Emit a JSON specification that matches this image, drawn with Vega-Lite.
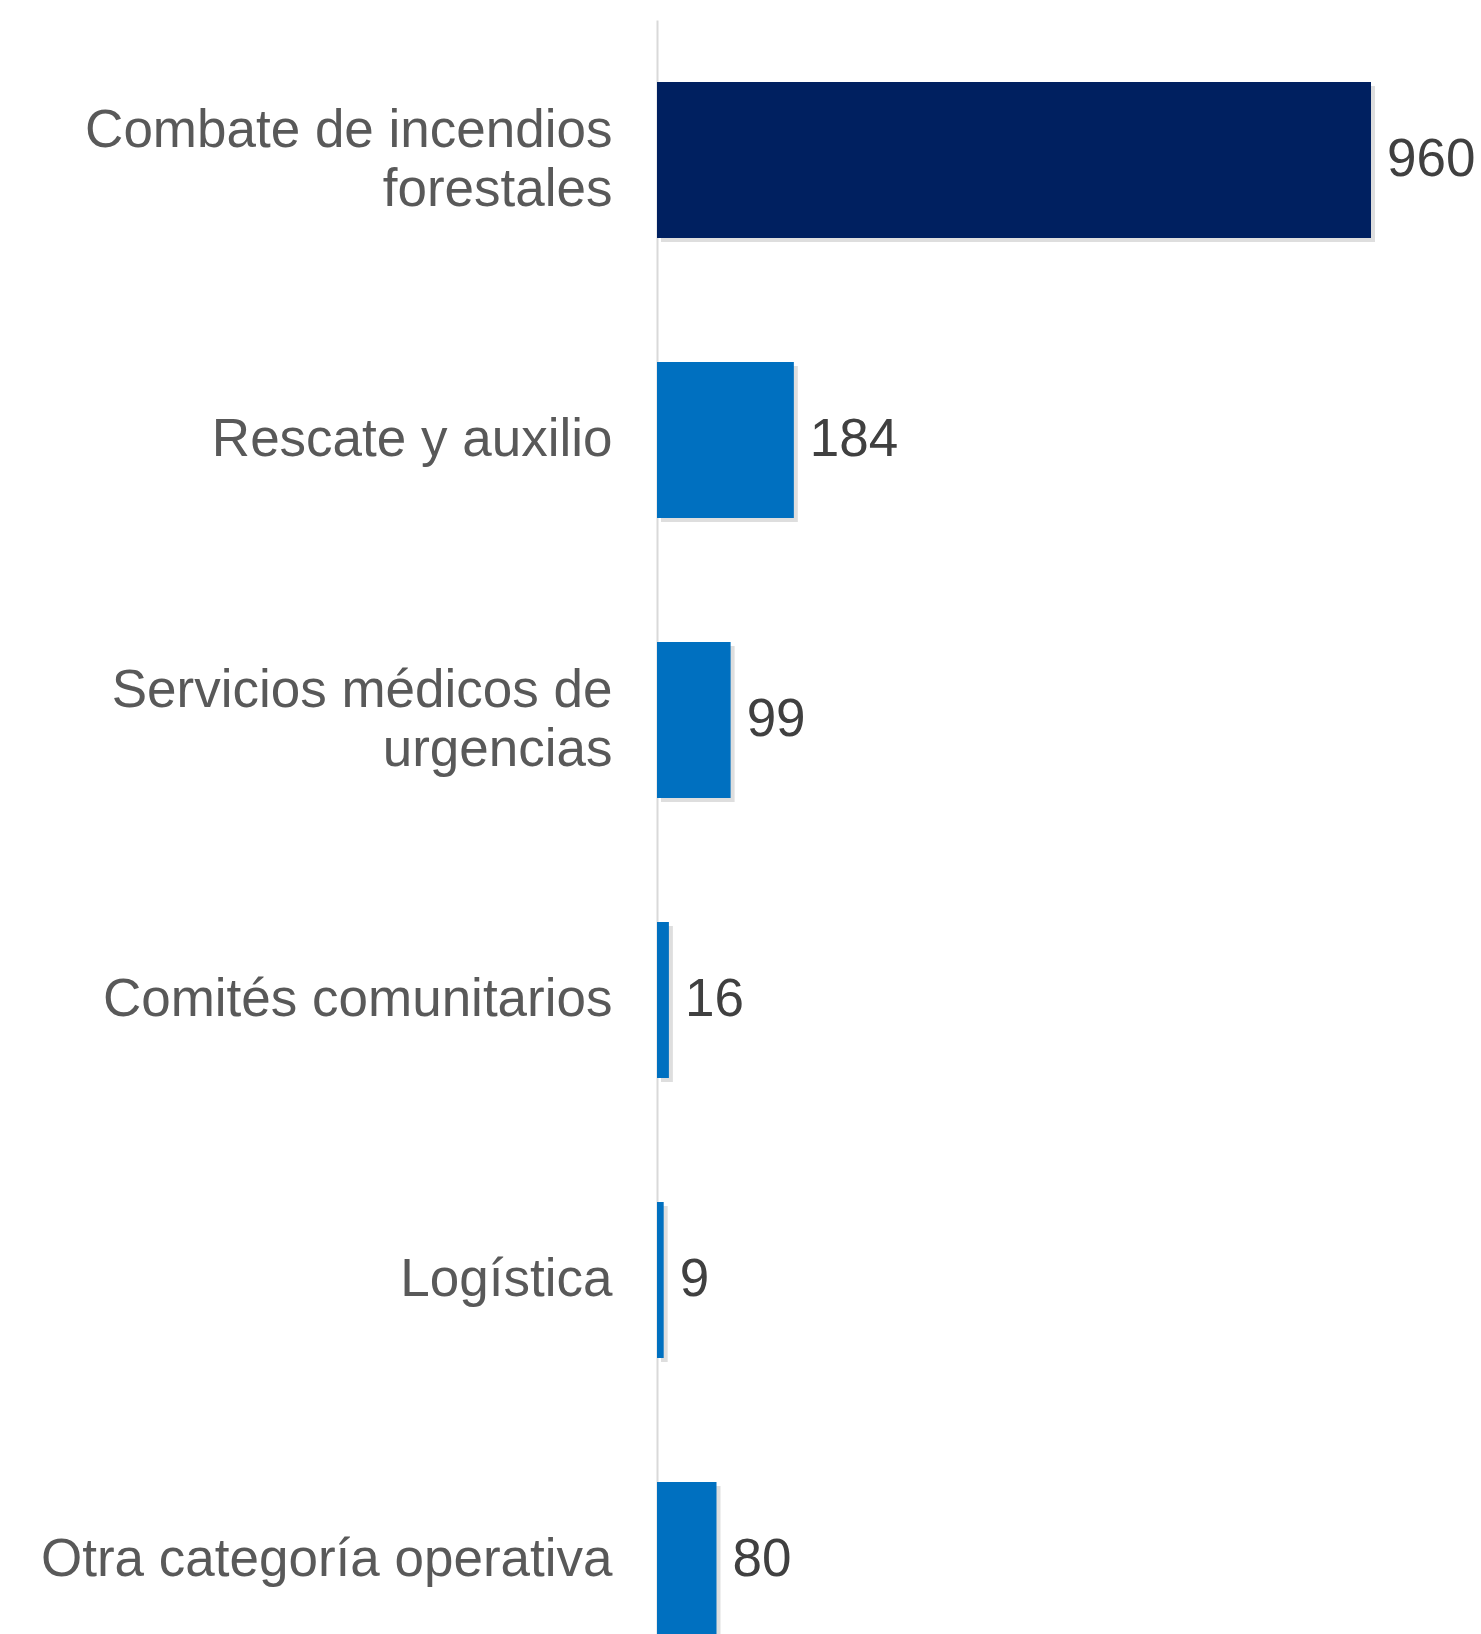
{
  "$schema": "https://vega.github.io/schema/vega-lite/v6.json",
  "autosize": "none",
  "width": 714,
  "height": 1680,
  "padding": {"left": 657, "top": 20, "right": 110, "bottom": 0},
  "background": "white",
  "config": {"view": {"stroke": null}},
  "data": {
    "values": [
      {"categoria": "Combate de incendios forestales", "valor": 960, "grupo": "principal"},
      {"categoria": "Rescate y auxilio", "valor": 184, "grupo": "otros"},
      {"categoria": "Servicios médicos de urgencias", "valor": 99, "grupo": "otros"},
      {"categoria": "Comités comunitarios", "valor": 16, "grupo": "otros"},
      {"categoria": "Logística", "valor": 9, "grupo": "otros"},
      {"categoria": "Otra categoría operativa", "valor": 80, "grupo": "otros"}
    ]
  },
  "encoding": {
    "y": {
      "field": "categoria",
      "type": "nominal",
      "sort": null,
      "scale": {"paddingInner": 0.443, "paddingOuter": 0.2215},
      "axis": {
        "title": null,
        "ticks": false,
        "domainColor": "#d9d9d9",
        "domainWidth": 2,
        "labelFont": "Liberation Sans",
        "labelFontSize": 53,
        "labelColor": "#595959",
        "labelPadding": 45,
        "labelLimit": 0,
        "labelLineHeight": 59,
        "labelOffset": {
          "condition": {"test": "datum.value == 'Combate de incendios forestales' || datum.value == 'Servicios médicos de urgencias'", "value": -29},
          "value": 0
        },
        "labelExpr": "datum.label == 'Combate de incendios forestales' ? ['Combate de incendios', 'forestales'] : datum.label == 'Servicios médicos de urgencias' ? ['Servicios médicos de', 'urgencias'] : datum.label"
      }
    },
    "x": {
      "field": "valor",
      "type": "quantitative",
      "scale": {"domain": [0, 960], "nice": false},
      "axis": null
    }
  },
  "layer": [
    {
      "mark": {"type": "bar", "color": "#000000", "opacity": 0.13},
      "encoding": {
        "xOffset": {"value": 4},
        "yOffset": {"value": 4}
      }
    },
    {
      "mark": {"type": "bar"},
      "encoding": {
        "color": {
          "field": "grupo",
          "type": "nominal",
          "scale": {"domain": ["principal", "otros"], "range": ["#002060", "#0070C0"]},
          "legend": null
        }
      }
    },
    {
      "mark": {"type": "text", "align": "left", "baseline": "middle", "dx": 16, "font": "Liberation Sans", "fontSize": 53, "color": "#404040"},
      "encoding": {"text": {"field": "valor", "type": "quantitative"}}
    }
  ]
}
